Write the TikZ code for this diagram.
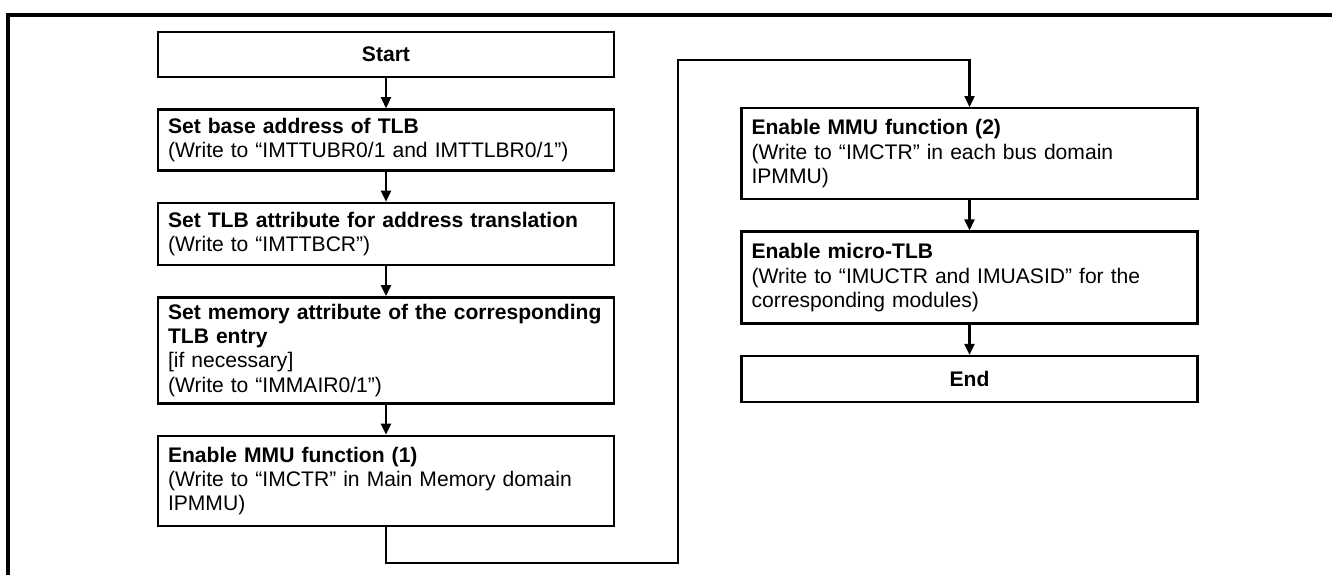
\documentclass[tikz,border=0pt]{standalone}
\usepackage{fontspec}
\setmainfont{Liberation Sans}
\usetikzlibrary{arrows.meta, positioning}

\begin{document}
\begin{tikzpicture}[
    node distance=0.6cm,
    every node/.style={font=\fontsize{12}{13.8}\selectfont},
    stepbox/.style={draw, line width=1.4pt, minimum width=9.12cm, text width=8.72cm, inner xsep=0.2cm, inner ysep=0pt, align=left},
    endbox/.style={draw, line width=1.4pt, minimum width=9.12cm, minimum height=0.9cm, font=\fontsize{12}{13.8}\selectfont\bfseries, align=center},
    flow/.style={-{Triangle[length=2.2mm, width=2mm]}, line width=1.3pt}
]
    \useasboundingbox (0,0) rectangle (26.64,-11.48);
    % outer frame (only top and left edges are visible)
    \draw[line width=2pt] (0.16,-11.6) |- (26.8,-0.30);

    % left column
    \node[endbox] (start) at (7.72,-1.09) {Start};
    \node[stepbox, minimum height=1.22cm, below=of start] (tlbbase) {\textbf{Set base address of TLB}\\(Write to “IMTTUBR0/1 and IMTTLBR0/1”)};
    \node[stepbox, minimum height=1.24cm, below=of tlbbase] (tlbattr) {\textbf{Set TLB attribute for address translation}\\(Write to “IMTTBCR”)};
    \node[stepbox, minimum height=2.12cm, below=of tlbattr] (memattr) {\textbf{Set memory attribute of the corresponding}\\\textbf{TLB entry}\\{[if necessary]}\\(Write to “IMMAIR0/1”)};
    \node[stepbox, minimum height=1.80cm, below=of memattr] (mmuone) {\textbf{Enable MMU function (1)}\\(Write to “IMCTR” in Main Memory domain\\IPMMU)};

    % right column
    \node[stepbox, minimum height=1.82cm, anchor=north] (mmutwo) at (19.39,-2.14) {\textbf{Enable MMU function (2)}\\(Write to “IMCTR” in each bus domain\\IPMMU)};
    \node[stepbox, minimum height=1.84cm, below=of mmutwo] (utlb) {\textbf{Enable micro-TLB}\\(Write to “IMUCTR and IMUASID” for the\\corresponding modules)};
    \node[endbox, minimum height=0.92cm, below=of utlb] (end) {End};

    \coordinate (lowturn) at (13.56,-11.26);
    \coordinate (highturn) at (13.56,-1.20);

    \draw[flow] (start) -- (tlbbase);
    \draw[flow] (tlbbase) -- (tlbattr);
    \draw[flow] (tlbattr) -- (memattr);
    \draw[flow] (memattr) -- (mmuone);
    \draw[flow] (mmuone.south) |- (lowturn) -- (highturn) -| (mmutwo.north);
    \draw[flow] (mmutwo) -- (utlb);
    \draw[flow] (utlb) -- (end);
\end{tikzpicture}
\end{document}
